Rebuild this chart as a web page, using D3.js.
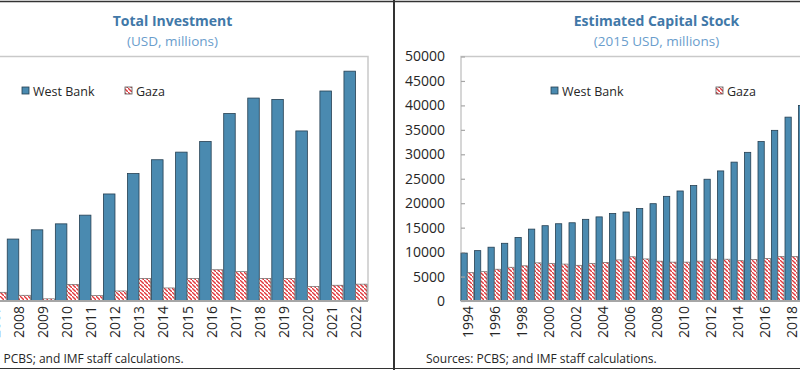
<!DOCTYPE html>
<html>
<head>
<meta charset="utf-8">
<script src="https://cdn.jsdelivr.net/npm/d3@7"></script>
<style>
  html, body { margin: 0; padding: 0; background: #fff; }
  svg { display: block; }
  text { font-family: "Open Sans", "Noto Sans", sans-serif; }
</style>
</head>
<body>
<div id="chart"></div>
<script>
// ---------- DATA ----------
// Left panel: Total Investment (USD, millions)
const investYears = [2007, 2008, 2009, 2010, 2011, 2012, 2013, 2014, 2015, 2016, 2017, 2018, 2019, 2020, 2021, 2022];
const investWestBank = [1050, 1140, 1310, 1420, 1580, 1970, 2345, 2600, 2740, 2935, 3450, 3735, 3710, 3130, 3865, 4230];
const investGaza = [160, 105, 40, 305, 100, 185, 415, 240, 415, 575, 540, 415, 415, 265, 290, 310];

// Right panel: Estimated Capital Stock (2015 USD, millions)
const capitalYears = [1994, 1995, 1996, 1997, 1998, 1999, 2000, 2001, 2002, 2003, 2004, 2005, 2006, 2007, 2008, 2009, 2010, 2011, 2012, 2013, 2014, 2015, 2016, 2017, 2018, 2019];
const capitalWestBank = [9800, 10300, 11000, 11800, 13000, 14700, 15400, 15800, 16000, 16700, 17200, 17900, 18200, 18900, 19900, 21400, 22500, 23600, 24900, 26600, 28400, 30400, 32600, 34900, 37600, 40000];
const capitalGaza = [5800, 6000, 6500, 6900, 7200, 7800, 7700, 7550, 7300, 7700, 7900, 8400, 9050, 8600, 8150, 7950, 7950, 8150, 8550, 8550, 8250, 8500, 8700, 9100, 9100, 9200];
const capitalTicks = [0, 5000, 10000, 15000, 20000, 25000, 30000, 35000, 40000, 45000, 50000];

const seriesNames = ["West Bank", "Gaza"];
const titles = ["Total Investment", "Estimated Capital Stock"];
const subtitles = ["(USD, millions)", "(2015 USD, millions)"];
const sources = ["Sources: PCBS; and IMF staff calculations.", "Sources: PCBS; and IMF staff calculations."];

// ---------- STYLE ----------
const W = 800, H = 370;
const wbColor = "#4a8ab0";
const wbStroke = "#253f52";
const gazaRed = "#e2373c";
const titleColor = "#4178a8";
const subColor = "#6a9dcc";
const textColor = "#262626";
const boxColor = "#c9c9c9";
const axisColor = "#a6a6a6";

const svg = d3.select("#chart").append("svg")
  .attr("width", W).attr("height", H);

svg.append("rect").attr("width", W).attr("height", H).attr("fill", "#fff");

const defs = svg.append("defs");
const pat = defs.append("pattern")
  .attr("id", "hatch")
  .attr("patternUnits", "userSpaceOnUse")
  .attr("width", 4).attr("height", 4);
pat.append("rect").attr("width", 4).attr("height", 4).attr("fill", "#fff");
pat.append("path")
  .attr("d", "M-1,-1 L1,1 M0,0 L4,4 M3,3 L5,5")
  .attr("stroke", gazaRed).attr("stroke-width", 1.4);

const plotTop = 56.5, plotBottom = 301;

function drawPanel(opts) {
  const g = svg.append("g");
  const { years, wb, gz, x0, step, plotLeft, plotRight, yMax, labelFilter } = opts;

  const x = d3.scaleBand()
    .domain(years)
    .range([x0, x0 + years.length * step])
    .padding(0);
  const inner = d3.scaleBand()
    .domain(seriesNames)
    .range([0, step - 1])
    .padding(0);
  const y = d3.scaleLinear().domain([0, yMax]).range([plotBottom, plotTop]);

  // plot-area border
  g.append("path")
    .attr("d", opts.boxPath)
    .attr("fill", "none")
    .attr("stroke", boxColor)
    .attr("stroke-width", 1.5);

  // bars
  const bars = g.append("g");
  years.forEach((yr, i) => {
    bars.append("rect")
      .attr("x", x(yr) + inner("West Bank"))
      .attr("y", y(wb[i]))
      .attr("width", inner.bandwidth())
      .attr("height", plotBottom - y(wb[i]))
      .attr("fill", wbColor)
      .attr("stroke", wbStroke)
      .attr("stroke-width", 0.8);
    bars.append("rect")
      .attr("x", x(yr) + inner("Gaza"))
      .attr("y", y(gz[i]))
      .attr("width", inner.bandwidth())
      .attr("height", plotBottom - y(gz[i]))
      .attr("fill", "url(#hatch)")
      .attr("stroke", "#6b6b6b")
      .attr("stroke-width", 0.7);
  });

  // x axis line
  g.append("line")
    .attr("x1", plotLeft).attr("x2", plotRight)
    .attr("y1", plotBottom).attr("y2", plotBottom)
    .attr("stroke", axisColor).attr("stroke-width", 2);

  // x labels
  const xAxis = d3.axisBottom(x).tickSize(0)
    .tickValues(years.filter(labelFilter))
    .tickFormat(d3.format("d"));
  const xg = g.append("g").attr("transform", `translate(0,${plotBottom})`).call(xAxis);
  xg.select(".domain").remove();
  xg.selectAll("text")
    .attr("transform", "rotate(-90)")
    .attr("x", -5).attr("y", 0).attr("dy", "0.35em")
    .attr("text-anchor", "end")
    .attr("fill", textColor)
    .style("font-size", "14px")
    .style("font-family", "'Open Sans', sans-serif");

  return { g, x, y };
}

// ---------- LEFT PANEL ----------
const leftStep = 24.05;
const leftRight = 368;
const left = drawPanel({
  years: investYears, wb: investWestBank, gz: investGaza,
  x0: leftRight - investYears.length * leftStep,
  step: leftStep,
  plotLeft: -20, plotRight: leftRight,
  yMax: 4500,
  labelFilter: () => true,
  boxPath: `M-20,${plotTop} L${leftRight},${plotTop} L${leftRight},${plotBottom}`
});

// ---------- RIGHT PANEL ----------
const rightLeft = 461;
const right = drawPanel({
  years: capitalYears, wb: capitalWestBank, gz: capitalGaza,
  x0: rightLeft,
  step: 13.5,
  plotLeft: rightLeft, plotRight: 820,
  yMax: 50000,
  labelFilter: d => (d - 1994) % 2 === 0,
  boxPath: `M${rightLeft},${plotBottom} L${rightLeft},${plotTop} L820,${plotTop}`
});

// y axis (right panel)
const yAxis = d3.axisLeft(right.y).tickValues(capitalTicks).tickSize(-4).tickPadding(16).tickFormat(d3.format("d"));
const yg = svg.append("g").attr("transform", `translate(${rightLeft},0)`).call(yAxis);
yg.select(".domain").remove();
yg.selectAll(".tick line").attr("stroke", axisColor).attr("stroke-width", 1.2);
yg.selectAll(".tick text")
  .attr("fill", textColor)
  .style("font-size", "14px")
  .style("font-family", "'Open Sans', sans-serif");

// ---------- TITLES ----------
const titleX = [172.5, 656.5];
titleX.forEach((cx, i) => {
  svg.append("text").attr("x", cx).attr("y", 26)
    .attr("text-anchor", "middle").attr("fill", titleColor)
    .style("font-size", "14px").style("font-weight", "bold")
    .text(titles[i]);
  svg.append("text").attr("x", cx).attr("y", 46)
    .attr("text-anchor", "middle").attr("fill", subColor)
    .style("font-size", "13.5px")
    .text(subtitles[i]);
});

// ---------- LEGENDS ----------
const legendPos = [
  { wb: 22, gz: 125 },
  { wb: 551, gz: 716 }
];
legendPos.forEach(p => {
  const ly = 87;
  [["West Bank", p.wb, wbColor], ["Gaza", p.gz, "url(#hatch)"]].forEach(([name, lx, fill]) => {
    svg.append("rect").attr("x", lx).attr("y", ly).attr("width", 7).attr("height", 7)
      .attr("fill", fill)
      .attr("stroke", name === "Gaza" ? "#555" : wbStroke).attr("stroke-width", 0.8);
    svg.append("text").attr("x", lx + 11).attr("y", ly + 8.5)
      .attr("fill", textColor).style("font-size", "12.5px")
      .text(name);
  });
});

// ---------- SOURCES ----------
svg.append("text").attr("x", -47).attr("y", 363)
  .attr("fill", textColor).style("font-size", "12px").text(sources[0]);
svg.append("text").attr("x", 426).attr("y", 363)
  .attr("fill", textColor).style("font-size", "12px").text(sources[1]);

// ---------- FRAME ----------
svg.append("line").attr("x1", 0).attr("x2", W).attr("y1", 1.5).attr("y2", 1.5)
  .attr("stroke", "#333").attr("stroke-width", 1.5);
svg.append("line").attr("x1", 0).attr("x2", W).attr("y1", 368.5).attr("y2", 368.5)
  .attr("stroke", "#333").attr("stroke-width", 1.2);
svg.append("line").attr("x1", 394).attr("x2", 394).attr("y1", 0).attr("y2", H)
  .attr("stroke", "#333").attr("stroke-width", 2);
</script>
</body>
</html>
